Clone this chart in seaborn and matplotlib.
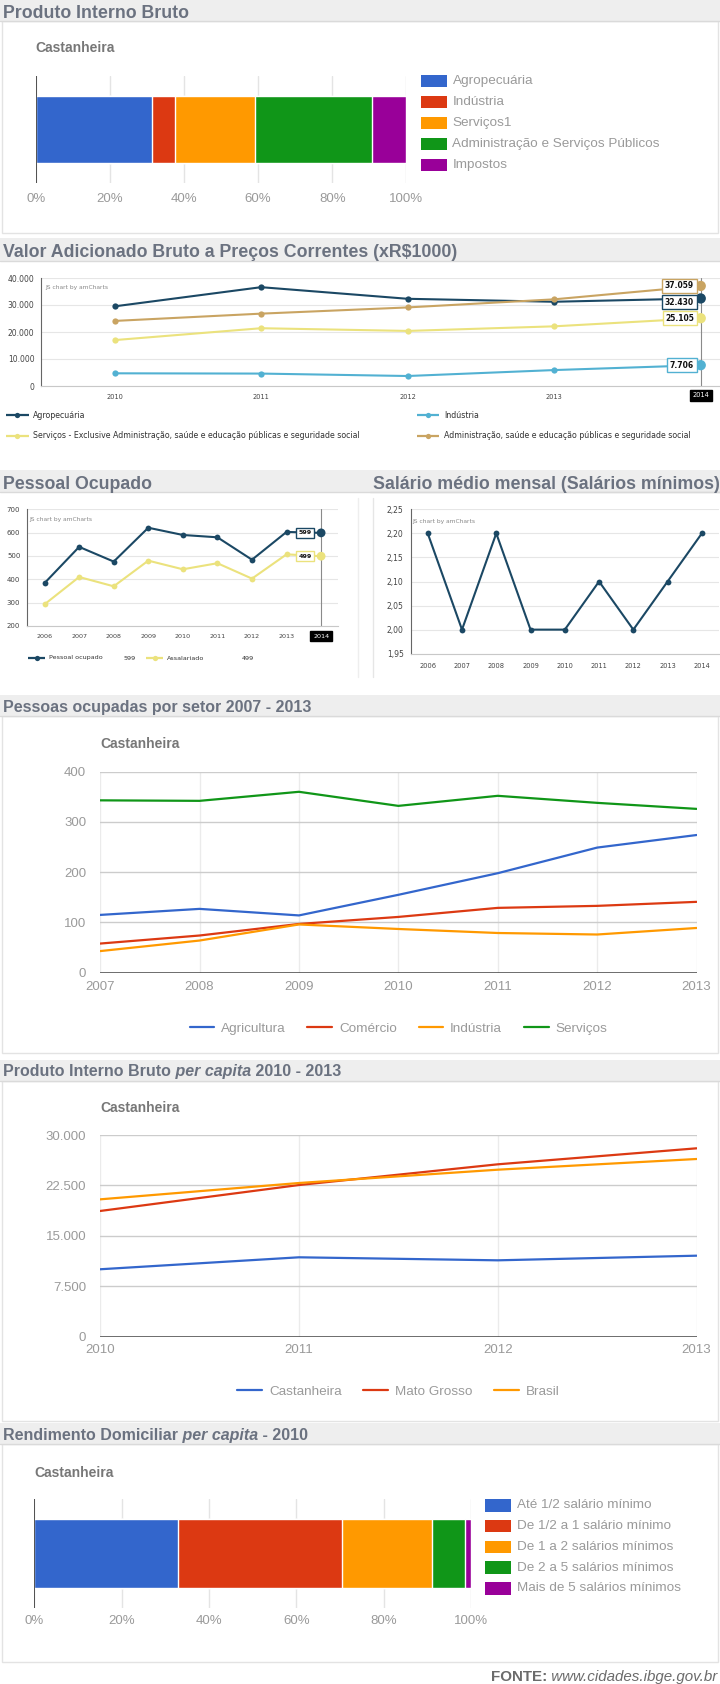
import numpy as np
import pandas as pd
import matplotlib
matplotlib.use("Agg")
import matplotlib.pyplot as plt
from matplotlib.patches import Rectangle
from matplotlib.ticker import FuncFormatter
import seaborn as sns

# ---------------- dados ----------------
pib_setores = ["Agropecuária", "Indústria", "Serviços1",
               "Administração e Serviços Públicos", "Impostos"]
pib_pct = [31.4, 6.1, 21.6, 31.7, 9.2]

vab_anos = [2010, 2011, 2012, 2013, 2014]
vab_agro = [29500, 36600, 32300, 31200, 32430]
vab_ind = [4700, 4600, 3700, 5900, 7706]
vab_serv = [17000, 21400, 20400, 22100, 25105]
vab_adm = [24100, 26800, 29100, 32100, 37059]
vab_nomes = ["Agropecuária", "Indústria",
             "Serviços - Exclusive Administração, saúde e educação públicas e seguridade social",
             "Administração, saúde e educação públicas e seguridade social"]

po_anos = [2006, 2007, 2008, 2009, 2010, 2011, 2012, 2013, 2014]
po_ocupado = [384, 539, 476, 621, 590, 580, 484, 603, 599]
po_assalariado = [293, 410, 370, 480, 443, 469, 403, 507, 499]
po_nomes = ["Pessoal ocupado", "Assalariado"]

sal_anos = [2006, 2007, 2008, 2009, 2010, 2011, 2012, 2013, 2014]
sal_medio = [2.20, 2.00, 2.20, 2.00, 2.00, 2.10, 2.00, 2.10, 2.20]

setor_anos = [2007, 2008, 2009, 2010, 2011, 2012, 2013]
setor_nomes = ["Agricultura", "Comércio", "Indústria", "Serviços"]
setor_agri = [115, 127, 114, 155, 198, 249, 274]
setor_com = [58, 74, 97, 111, 129, 133, 141]
setor_ind = [43, 64, 96, 87, 79, 76, 89]
setor_serv = [343, 342, 360, 332, 352, 338, 326]

pc_anos = [2010, 2011, 2012, 2013]
pc_nomes = ["Castanheira", "Mato Grosso", "Brasil"]
pc_cast = [10030, 11810, 11360, 12050]
pc_mt = [18700, 22560, 25640, 28020]
pc_br = [20430, 22860, 24840, 26430]

rend_faixas = ["Até 1/2 salário mínimo", "De 1/2 a 1 salário mínimo",
               "De 1 a 2 salários mínimos", "De 2 a 5 salários mínimos",
               "Mais de 5 salários mínimos"]
rend_pct = [32.8, 37.6, 20.6, 7.7, 1.3]

# ---------------- estilo ----------------
GCOL = ["#3366cc", "#dc3912", "#ff9900", "#109618", "#990099"]
AMCOL = ["#1b4864", "#52b1d2", "#ebe27d", "#c9a462"]
HEAD = "#6b7280"
GTXT = "#9a9a9a"
GSUB = "#777777"
AMF = "DejaVu Sans"

sns.set_style("white")
plt.rcParams["font.family"] = ["Liberation Sans", "DejaVu Sans"]

W, H = 720, 1684
fig = plt.figure(figsize=(W / 100, H / 100), dpi=100)
bg = fig.add_axes([0, 0, 1, 1])
bg.set_xlim(0, W)
bg.set_ylim(H, 0)
bg.axis("off")


def box(x0, y0, x1, y1):
    ax = fig.add_axes([x0 / W, 1 - y1 / H, (x1 - x0) / W, (y1 - y0) / H])
    ax.patch.set_alpha(0)
    return ax


def fmt_milhar(v, pos=None):
    return f"{v:,.0f}".replace(",", ".")


def header(y0, y1, base, parts, size, x0=0, x1=W, tx=3):
    bg.add_patch(Rectangle((x0, y0), x1 - x0, y1 - y0, fc="#eeeeee", ec="none", zorder=0))
    bg.plot([x0, x1], [y1, y1], color="#dadada", lw=1, zorder=1)
    t = bg.text(x0 + tx, base, parts[0][0], va="baseline", ha="left", fontsize=size,
                fontweight="bold", fontstyle=parts[0][1], color=HEAD)
    for txt, st in parts[1:]:
        t = bg.annotate(txt, xy=(1, 0), xycoords=t, va="bottom", ha="left", fontsize=size,
                        fontweight="bold", fontstyle=st, color=HEAD)


def panel(y0, y1, x0=2, x1=W - 2):
    bg.add_patch(Rectangle((x0, y0), x1 - x0, y1 - y0, fc="white", ec="#e3e3e3", lw=1, zorder=0))


def google_bar(rect, valores, nomes, bw, leg_x, leg_y0, leg_dy, sub_y, pad):
    ax = box(*rect)
    acum = np.cumsum(valores)
    df = pd.DataFrame({"faixa": nomes, "acum": acum, "mun": "Castanheira"})
    for i in reversed(range(len(nomes))):
        sns.barplot(data=df.iloc[[i]], x="acum", y="mun", orient="h", color=GCOL[i],
                    saturation=1, width=bw, edgecolor="white", linewidth=1, ax=ax)
    ax.set_xlim(0, 100)
    ax.set_ylim(0.5, -0.5)
    ticks = list(range(0, 101, 20))
    ax.set_xticks(ticks, [f"{t}%" for t in ticks])
    ax.set_yticks([])
    ax.set(xlabel="", ylabel="")
    ax.grid(axis="x", color="#e4e4e4", lw=1)
    ax.set_axisbelow(True)
    sns.despine(ax=ax, left=True, bottom=True)
    ax.axvline(0, color="#444444", lw=1.3, zorder=5)
    ax.tick_params(axis="x", length=0, pad=pad, labelsize=9.5, labelcolor=GTXT)
    bg.text(rect[0], sub_y, "Castanheira", va="center", ha="left", fontsize=10,
            fontweight="bold", color=GSUB)
    # legenda
    for i, nome in enumerate(nomes):
        y = leg_y0 + i * leg_dy
        bg.add_patch(Rectangle((leg_x, y - 6.3), 25.5, 12.6, fc=GCOL[i], ec="none"))
        bg.text(leg_x + 31.5, y, nome, va="center", ha="left", fontsize=9.7, color=GTXT)
    return ax


def google_lines(rect, anos, series, nomes, ymax, ystep, sub_y, leg_y, xpad):
    ax = box(*rect)
    df = pd.DataFrame({"ano": np.tile(anos, len(series)),
                       "valor": np.concatenate(series),
                       "serie": np.repeat(nomes, len(anos))})
    sns.lineplot(data=df, x="ano", y="valor", hue="serie", palette=GCOL[:len(nomes)],
                 lw=1.6, ax=ax)
    ax.set_xlim(anos[0], anos[-1])
    ax.set_ylim(0, ymax)
    ax.set_xticks(anos)
    ax.set_yticks(np.arange(0, ymax + 1, ystep))
    ax.yaxis.set_major_formatter(FuncFormatter(fmt_milhar))
    ax.set(xlabel="", ylabel="")
    ax.grid(axis="y", color="#cccccc", lw=1)
    ax.grid(axis="x", color="#ebebeb", lw=1)
    ax.set_axisbelow(True)
    sns.despine(ax=ax, left=True, bottom=True)
    ax.axhline(0, color="#444444", lw=1.8, zorder=1.5)
    ax.tick_params(axis="y", length=0, pad=10, labelsize=9.5, labelcolor=GTXT)
    ax.tick_params(axis="x", length=0, pad=xpad, labelsize=9.5, labelcolor=GTXT)
    sns.move_legend(ax, "center", bbox_to_anchor=(0.5, leg_y), ncol=len(nomes),
                    frameon=False, title=None, handlelength=1.85, handletextpad=0.5,
                    columnspacing=1.6, fontsize=9.7, labelcolor=GTXT)
    bg.text(rect[0], sub_y, "Castanheira", va="center", ha="left", fontsize=10,
            fontweight="bold", color=GSUB)
    return ax


def am_lines(ax, anos, series, nomes, cores, ms, s_last, lw=1.5):
    df = pd.DataFrame({"ano": np.tile(anos, len(series)),
                       "valor": np.concatenate(series),
                       "serie": np.repeat(nomes, len(anos))})
    sns.lineplot(data=df, x="ano", y="valor", hue="serie", palette=cores, lw=lw,
                 marker="o", markersize=ms, markeredgewidth=0, legend=False, ax=ax)
    if s_last:
        ult = df[df["ano"] == anos[-1]]
        sns.scatterplot(data=ult, x="ano", y="valor", hue="serie", palette=cores,
                        s=s_last, linewidth=0, legend=False, ax=ax, zorder=5)


def am_style(ax, anos, ylim, yticks, yfmt, xticks, ysize, xsize, xpad):
    ax.set_xlim(anos[0] - 0.5, anos[-1] + 0.5)
    ax.set_ylim(*ylim)
    ax.set_yticks(yticks)
    ax.yaxis.set_major_formatter(FuncFormatter(yfmt))
    ax.set_xticks(xticks)
    ax.set(xlabel="", ylabel="")
    ax.grid(axis="y", color="#e6e6e6", lw=0.8)
    ax.grid(axis="x", visible=False)
    ax.set_axisbelow(True)
    sns.despine(ax=ax)
    ax.spines["left"].set_color("#666666")
    ax.spines["left"].set_linewidth(0.8)
    ax.spines["bottom"].set_color("#c8c8c8")
    ax.spines["bottom"].set_linewidth(0.8)
    ax.tick_params(axis="y", length=3, width=0.6, color="#888888", pad=2,
                   labelsize=ysize, labelcolor="#444444", labelfontfamily=AMF)
    ax.tick_params(axis="x", length=0, pad=xpad, labelsize=xsize,
                   labelcolor="#444444", labelfontfamily=AMF)
    ax.text(0.006, 0.915, "JS chart by amCharts", transform=ax.transAxes, fontsize=4.3,
            color="#888888", family=AMF, va="center", ha="left")


def balloon(ax, x, y, texto, cor, dx, size, dy=0):
    ax.annotate(texto, xy=(x, y), xytext=(dx, dy), textcoords="offset points",
                ha="right", va="center", fontsize=size, fontweight="bold", family=AMF,
                color="#111111", zorder=7, annotation_clip=False,
                bbox=dict(boxstyle="square,pad=0.35", fc="white", ec=cor, lw=1))


def cursor(ax, x, size, dy):
    ax.axvline(x, color="#8a8a8a", lw=0.8, zorder=1)
    ax.annotate(str(x), xy=(x, 0), xycoords=("data", "axes fraction"), xytext=(0, dy),
                textcoords="offset points", ha="center", va="center", fontsize=size,
                family=AMF, color="white", zorder=8, annotation_clip=False,
                bbox=dict(boxstyle="square,pad=0.4", fc="black", ec="black"))


def am_legend_item(x0, x1, y, cor, texto, tx, size, valor=None, vx=None):
    bg.plot([x0, x1], [y, y], color=cor, lw=1.6, solid_capstyle="butt")
    bg.plot([(x0 + x1) / 2], [y], "o", color=cor, ms=3.8, mew=0)
    bg.text(tx, y, texto, va="center", ha="left", fontsize=size, family=AMF, color="#333333")
    if valor is not None:
        bg.text(vx, y, valor, va="center", ha="left", fontsize=size, family=AMF, color="#333333")


# ---------------- 1. Produto Interno Bruto ----------------
panel(21, 233)
header(0, 21, 18.3, [("Produto Interno Bruto", "normal")], 12.8)
google_bar((35.8, 76, 406.4, 183), pib_pct, pib_setores, 0.626,
           421, 81, 21, 48, 7.5)

# ---------------- 2. Valor Adicionado Bruto ----------------
header(238, 261, 256.7, [("Valor Adicionado Bruto a Preços Correntes (xR$1000)", "normal")], 12.8)
ax2 = box(41.3, 278, 774, 386)
vab_series = [vab_agro, vab_ind, vab_serv, vab_adm]
am_lines(ax2, vab_anos, vab_series, vab_nomes, AMCOL, 4.5, 55)
am_style(ax2, vab_anos, (0, 40000), range(0, 40001, 10000), fmt_milhar,
         vab_anos[:-1], 5.5, 4.8, 6)
cursor(ax2, vab_anos[-1], 4.8, -6.8)
balloon_dy = [-2.6, 0, 0, 0]
for serie, cor, dy in zip(vab_series, AMCOL, balloon_dy):
    balloon(ax2, vab_anos[-1], serie[-1], fmt_milhar(serie[-1]), cor, -4.8, 5.5, dy)
am_legend_item(5.5, 28.5, 415, AMCOL[0], vab_nomes[0], 33, 5.7)
am_legend_item(417, 438.5, 415, AMCOL[1], vab_nomes[1], 444.5, 5.7)
am_legend_item(5.5, 28.5, 436, AMCOL[2], vab_nomes[2], 33, 5.7)
am_legend_item(417, 438.5, 436, AMCOL[3], vab_nomes[3], 444.5, 5.7)

# ---------------- 3. Pessoal Ocupado / Salário médio ----------------
header(470, 492, 489, [("Pessoal Ocupado", "normal")], 12.8)
header(470, 492, 489, [("Salário médio mensal (Salários mínimos)", "normal")], 12.8,
       x0=370, tx=3)
bg.plot([358, 358], [498, 677], color="#eeeeee", lw=1)
bg.plot([373, 373], [498, 677], color="#e6e6e6", lw=1)

ax3 = box(27.3, 509.3, 338.4, 626)
am_lines(ax3, po_anos, [po_ocupado, po_assalariado], po_nomes, AMCOL[0:3:2], 4.2, 40)
am_style(ax3, po_anos, (200, 700), range(200, 701, 100), lambda v, p: f"{v:.0f}",
         po_anos[:-1], 5, 4.6, 5.5)
cursor(ax3, po_anos[-1], 4.6, -7.5)
balloon(ax3, po_anos[-1], po_ocupado[-1], str(po_ocupado[-1]), AMCOL[0], -6.9, 4.6)
balloon(ax3, po_anos[-1], po_assalariado[-1], str(po_assalariado[-1]), AMCOL[2], -6.9, 4.6)
am_legend_item(28, 45, 658, AMCOL[0], po_nomes[0], 49, 4.6, str(po_ocupado[-1]), 124)
am_legend_item(146, 163, 658, AMCOL[2], po_nomes[1], 167, 4.6, str(po_assalariado[-1]), 242)

ax4 = box(410.6, 509.3, 719, 653.7)
sns.lineplot(x=sal_anos, y=sal_medio, color=AMCOL[0], lw=1.5, marker="o", markersize=4.2,
             markeredgewidth=0, ax=ax4)
am_style(ax4, sal_anos, (1.95, 2.25), np.arange(1.95, 2.26, 0.05),
         lambda v, p: f"{v:.2f}".replace(".", ","), sal_anos, 5.5, 4.8, 6.5)

# ---------------- 4. Pessoas ocupadas por setor ----------------
panel(716, 1053)
header(695, 716, 712.3, [("Pessoas ocupadas por setor 2007 - 2013", "normal")], 11.5)
google_lines((100.1, 771.7, 696.6, 972.7), setor_anos,
             [setor_agri, setor_com, setor_ind, setor_serv], setor_nomes,
             400, 100, 744.3, -0.277, 6)

# ---------------- 5. PIB per capita ----------------
panel(1081, 1421)
header(1060, 1081, 1076, [("Produto Interno Bruto", "normal"), (" per capita", "italic"),
                          (" 2010 - 2013", "normal")], 11.5)
google_lines((100.1, 1135, 696.6, 1336.7), pc_anos, [pc_cast, pc_mt, pc_br], pc_nomes,
             30000, 7500, 1107.7, -0.273, 5.5)

# ---------------- 6. Rendimento domiciliar per capita ----------------
panel(1444, 1662)
header(1423, 1444, 1440, [("Rendimento Domiciliar", "normal"), (" per capita", "italic"),
                          (" - 2010", "normal")], 11.5)
google_bar((34.4, 1499, 471.1, 1608), rend_pct, rend_faixas, 0.633,
           485.4, 1505.3, 20.75, 1472.7, 5.3)

# ---------------- fonte ----------------
t = bg.text(717, 1681, " www.cidades.ibge.gov.br", ha="right", va="baseline", fontsize=10.9,
            fontstyle="italic", color="#6b6b6b")
bg.annotate("FONTE:", xy=(0, 0), xycoords=t, ha="right", va="bottom", fontsize=10.9,
            fontweight="bold", color="#6b6b6b")

fig.savefig("out.png", dpi=100)
